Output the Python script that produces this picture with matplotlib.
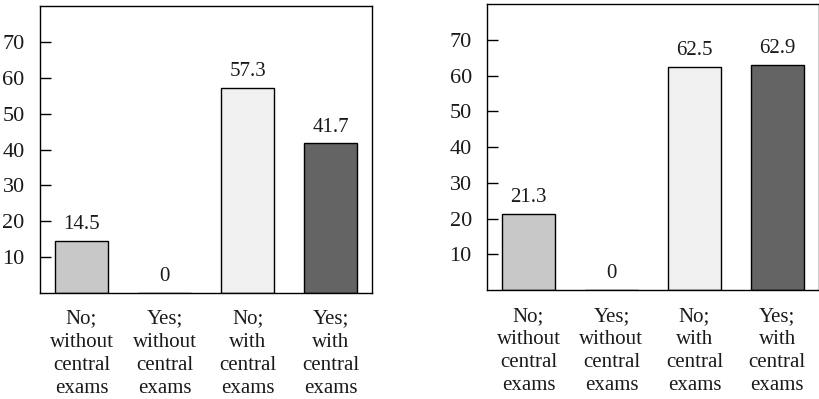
import matplotlib.pyplot as plt

plt.rcParams['font.family'] = ['Liberation Serif', 'DejaVu Serif']

categories = ['No;\nwithout\ncentral\nexams', 'Yes;\nwithout\ncentral\nexams',
              'No;\nwith\ncentral\nexams', 'Yes;\nwith\ncentral\nexams']
left_values = [14.5, 0, 57.3, 41.7]
right_values = [21.3, 0, 62.5, 62.9]
bar_colors = ['#c8c8c8', '#c8c8c8', '#f0f0f0', '#646464']
y_ticks = [10, 20, 30, 40, 50, 60, 70]

TXT = '#1a1a1a'


def draw_panel(ax, values):
    x = range(len(values))
    bars = ax.bar(x, values, width=0.64, color=bar_colors,
                  edgecolor='black', linewidth=1.0)
    for b, v in zip(bars, values):
        ax.annotate(f'{v:g}', (b.get_x() + b.get_width() / 2, v),
                    xytext=(0, 5), textcoords='offset points',
                    ha='center', va='bottom', fontsize=15, color=TXT)
    ax.set_xlim(-0.5, 3.5)
    ax.set_ylim(0, 80)
    ax.set_yticks(y_ticks)
    ax.set_xticks(list(x))
    ax.set_xticklabels(categories, fontsize=15, color=TXT, linespacing=1.3)
    ax.tick_params(axis='x', length=0, pad=12)
    ax.tick_params(axis='y', direction='in', length=8, width=1.0,
                   pad=11, labelsize=16, labelcolor=TXT)
    for s in ax.spines.values():
        s.set_linewidth(1.0)
        s.set_color('black')


fig = plt.figure(figsize=(8.2, 3.99), dpi=100)
ax1 = fig.add_axes([0.0488, 0.2657, 0.405, 0.719])
ax2 = fig.add_axes([0.594, 0.273, 0.4045, 0.717])
draw_panel(ax1, left_values)
draw_panel(ax2, right_values)

fig.savefig('out.png', dpi=100)
